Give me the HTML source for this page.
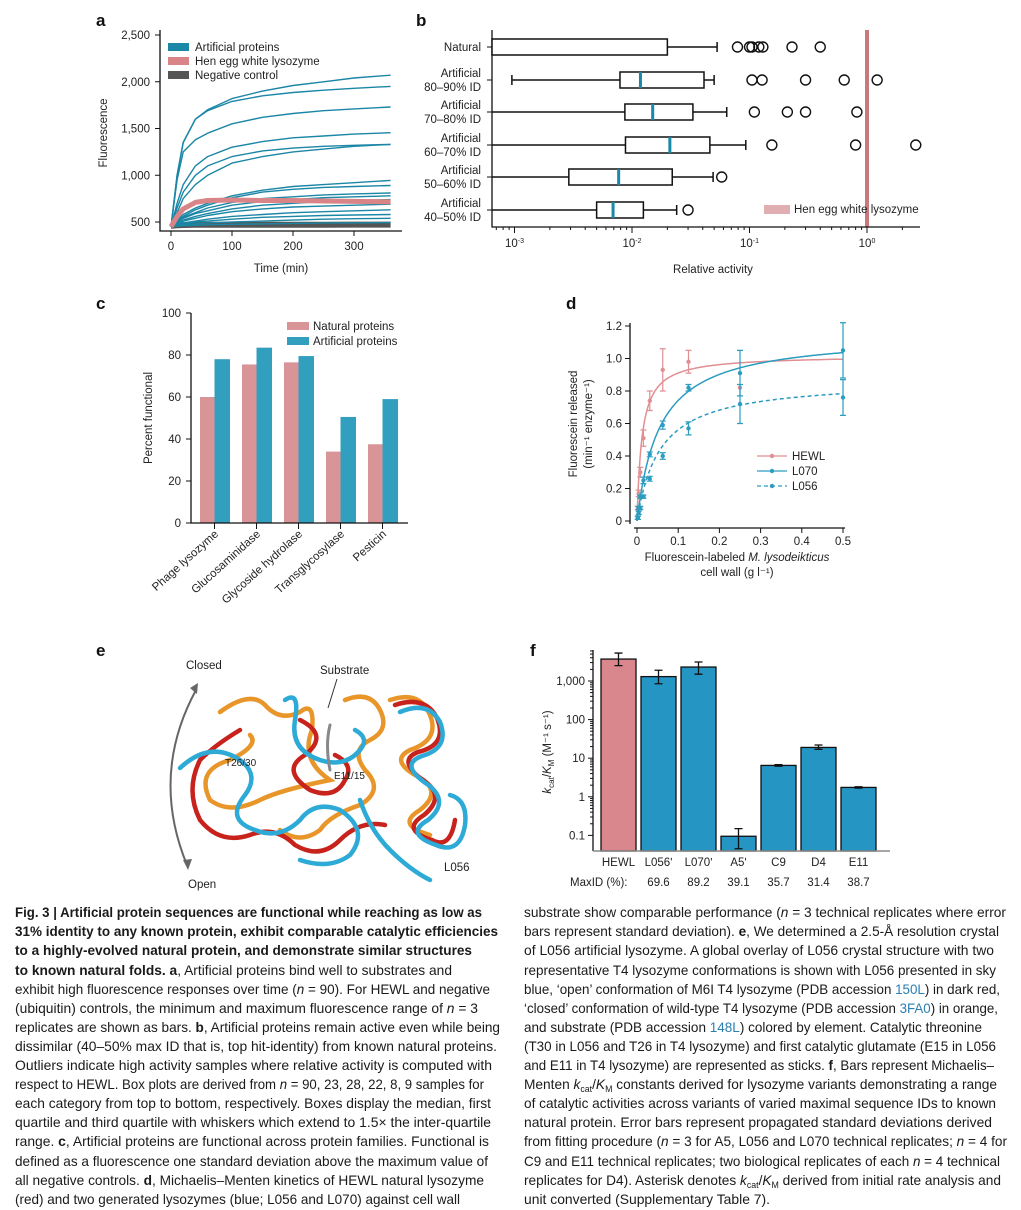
<!DOCTYPE html>
<html><head><meta charset="utf-8">
<style>
html,body{margin:0;padding:0;background:#fff;}
svg{display:block;font-family:"Liberation Sans",sans-serif;}
.t{font-size:11.5px;fill:#222;}
.cap{font-size:14px;fill:#1a1a1a;}
.b{font-weight:bold;}
.lnk{fill:#2a7fb0;}
</style></head>
<body>
<svg id="fig" xmlns="http://www.w3.org/2000/svg" width="1021" height="1210" viewBox="0 0 1021 1210">
<!-- panel letters -->
<g font-weight="bold" font-size="17" fill="#111">
<text x="96" y="26">a</text>
<text x="416" y="26">b</text>
<text x="96" y="309">c</text>
<text x="566" y="309">d</text>
<text x="96" y="656">e</text>
<text x="530" y="656">f</text>
</g>
<g id="pa"></g>
<g id="pb"></g>
<g id="pc"></g>
<g id="pd"></g>
<g id="pf"></g>

<!-- panel e: structure -->
<g>
<path d="M196 690 Q150 775 187 865" fill="none" stroke="#666" stroke-width="2"/>
<path d="M190 688 L198 683 L197 694 Z" fill="#666"/>
<path d="M183 860 L188 870 L192 859 Z" fill="#666"/>
<text x="186" y="669" class="t" font-size="12.5">Closed</text>
<text x="188" y="888" class="t" font-size="12.5">Open</text>
<text x="320" y="674" class="t" font-size="12.5">Substrate</text>
<line x1="337" y1="679" x2="328" y2="708" stroke="#333" stroke-width="1"/>
<text x="444" y="871" class="t" font-size="12.5">L056</text>
<g fill="none" stroke-linecap="round" stroke-width="4.5">
<path d="M220 712 Q250 690 265 705 Q280 722 300 712 Q315 700 312 730 Q300 760 330 780 Q280 790 260 800 Q230 815 210 800 Q195 770 230 760 Q260 745 250 735" stroke="#e8962a"/>
<path d="M345 700 Q370 690 380 710 Q390 730 370 740 Q350 750 365 770 Q385 790 360 805 Q330 815 320 830 Q300 845 280 830" stroke="#e8962a"/>
<path d="M390 700 Q420 690 430 715 Q440 740 410 750 Q390 760 415 775 Q445 790 420 810 Q395 825 430 835" stroke="#e8962a"/>
<path d="M240 730 Q215 745 200 760 Q185 790 200 820 Q220 845 250 835 Q275 825 295 845 Q320 860 340 840 Q360 820 385 825" stroke="#c7231c"/>
<path d="M395 705 Q425 695 437 718 Q448 745 418 752 Q398 760 420 778 Q448 795 424 815 Q400 830 432 840 Q450 850 455 820" stroke="#c7231c"/>
<path d="M300 720 Q330 735 305 755 Q280 770 310 790 Q335 800 345 780 Q355 765 335 755" stroke="#c7231c"/>
<path d="M180 768 Q210 740 240 760 Q260 775 245 795 Q225 820 255 830 Q280 840 300 820 Q315 800 340 810 Q370 830 350 855 Q330 870 300 860" stroke="#2eaad6"/>
<path d="M285 700 Q300 690 295 720 Q290 750 320 760 Q345 768 360 750 Q370 738 355 730" stroke="#2eaad6"/>
<path d="M400 712 Q428 700 440 722 Q450 748 422 756 Q400 764 424 782 Q452 800 428 820 Q404 834 436 845 Q460 855 465 825 Q468 800 450 795" stroke="#2eaad6"/>
<path d="M360 800 Q370 830 390 850 Q410 870 430 880" stroke="#2eaad6"/>
<path d="M330 725 Q325 745 330 770" stroke="#888" stroke-width="3"/>
</g>
<text x="225" y="766" font-size="10" fill="#222">T26/30</text>
<text x="334" y="779" font-size="10" fill="#222">E11/15</text>
</g>

<!-- caption left -->
<g class="cap">
<text x="15" y="917" textLength="467" lengthAdjust="spacingAndGlyphs" class="cap b">Fig. 3 | Artificial protein sequences are functional while reaching as low as</text>
<text x="15" y="936" textLength="483" lengthAdjust="spacingAndGlyphs" class="cap b">31% identity to any known protein, exhibit comparable catalytic efficiencies</text>
<text x="15" y="955" textLength="457" lengthAdjust="spacingAndGlyphs" class="cap b">to a highly-evolved natural protein, and demonstrate similar structures</text>
<text x="15" y="975" textLength="437" lengthAdjust="spacingAndGlyphs" class="cap"><tspan class="b">to known natural folds. a</tspan>, Artificial proteins bind well to substrates and</text>
<text x="15" y="994" textLength="475" lengthAdjust="spacingAndGlyphs" class="cap">exhibit high fluorescence responses over time (<tspan font-style="italic">n</tspan> = 90). For HEWL and negative</text>
<text x="15" y="1013" textLength="463" lengthAdjust="spacingAndGlyphs" class="cap">(ubiquitin) controls, the minimum and maximum fluorescence range of <tspan font-style="italic">n</tspan> = 3</text>
<text x="15" y="1032" textLength="485" lengthAdjust="spacingAndGlyphs" class="cap">replicates are shown as bars. <tspan class="b">b</tspan>, Artificial proteins remain active even while being</text>
<text x="15" y="1051" textLength="482" lengthAdjust="spacingAndGlyphs" class="cap">dissimilar (40–50% max ID that is, top hit-identity) from known natural proteins.</text>
<text x="15" y="1070" textLength="477" lengthAdjust="spacingAndGlyphs" class="cap">Outliers indicate high activity samples where relative activity is computed with</text>
<text x="15" y="1089" textLength="469" lengthAdjust="spacingAndGlyphs" class="cap">respect to HEWL. Box plots are derived from <tspan font-style="italic">n</tspan> = 90, 23, 28, 22, 8, 9 samples for</text>
<text x="15" y="1108" textLength="476" lengthAdjust="spacingAndGlyphs" class="cap">each category from top to bottom, respectively. Boxes display the median, first</text>
<text x="15" y="1127" textLength="476" lengthAdjust="spacingAndGlyphs" class="cap">quartile and third quartile with whiskers which extend to 1.5× the inter-quartile</text>
<text x="15" y="1146" textLength="474" lengthAdjust="spacingAndGlyphs" class="cap">range. <tspan class="b">c</tspan>, Artificial proteins are functional across protein families. Functional is</text>
<text x="15" y="1166" textLength="473" lengthAdjust="spacingAndGlyphs" class="cap">defined as a fluorescence one standard deviation above the maximum value of</text>
<text x="15" y="1185" textLength="469" lengthAdjust="spacingAndGlyphs" class="cap">all negative controls. <tspan class="b">d</tspan>, Michaelis–Menten kinetics of HEWL natural lysozyme</text>
<text x="15" y="1204" textLength="445" lengthAdjust="spacingAndGlyphs" class="cap">(red) and two generated lysozymes (blue; L056 and L070) against cell wall</text>
<!-- right -->
<text x="524" y="917" textLength="482" lengthAdjust="spacingAndGlyphs" class="cap">substrate show comparable performance (<tspan font-style="italic">n</tspan> = 3 technical replicates where error</text>
<text x="524" y="936" textLength="475" lengthAdjust="spacingAndGlyphs" class="cap">bars represent standard deviation). <tspan class="b">e</tspan>, We determined a 2.5-Å resolution crystal</text>
<text x="524" y="955" textLength="470" lengthAdjust="spacingAndGlyphs" class="cap">of L056 artificial lysozyme. A global overlay of L056 crystal structure with two</text>
<text x="524" y="975" textLength="472" lengthAdjust="spacingAndGlyphs" class="cap">representative T4 lysozyme conformations is shown with L056 presented in sky</text>
<text x="524" y="994" textLength="476" lengthAdjust="spacingAndGlyphs" class="cap">blue, ‘open’ conformation of M6I T4 lysozyme (PDB accession <tspan class="lnk">150L</tspan>) in dark red,</text>
<text x="524" y="1013" textLength="474" lengthAdjust="spacingAndGlyphs" class="cap">‘closed’ conformation of wild-type T4 lysozyme (PDB accession <tspan class="lnk">3FA0</tspan>) in orange,</text>
<text x="524" y="1032" textLength="458" lengthAdjust="spacingAndGlyphs" class="cap">and substrate (PDB accession <tspan class="lnk">148L</tspan>) colored by element. Catalytic threonine</text>
<text x="524" y="1051" textLength="472" lengthAdjust="spacingAndGlyphs" class="cap">(T30 in L056 and T26 in T4 lysozyme) and first catalytic glutamate (E15 in L056</text>
<text x="524" y="1070" textLength="470" lengthAdjust="spacingAndGlyphs" class="cap">and E11 in T4 lysozyme) are represented as sticks. <tspan class="b">f</tspan>, Bars represent Michaelis–</text>
<text x="524" y="1089" textLength="473" lengthAdjust="spacingAndGlyphs" class="cap">Menten <tspan font-style="italic">k</tspan><tspan font-size="9" dy="3">cat</tspan><tspan dy="-3">/</tspan><tspan font-style="italic">K</tspan><tspan font-size="9" dy="3">M</tspan><tspan dy="-3"> constants derived for lysozyme variants demonstrating a range</tspan></text>
<text x="524" y="1108" textLength="472" lengthAdjust="spacingAndGlyphs" class="cap">of catalytic activities across variants of varied maximal sequence IDs to known</text>
<text x="524" y="1127" textLength="468" lengthAdjust="spacingAndGlyphs" class="cap">natural protein. Error bars represent propagated standard deviations derived</text>
<text x="524" y="1146" textLength="483" lengthAdjust="spacingAndGlyphs" class="cap">from fitting procedure (<tspan font-style="italic">n</tspan> = 3 for A5, L056 and L070 technical replicates; <tspan font-style="italic">n</tspan> = 4 for</text>
<text x="524" y="1166" textLength="476" lengthAdjust="spacingAndGlyphs" class="cap">C9 and E11 technical replicates; two biological replicates of each <tspan font-style="italic">n</tspan> = 4 technical</text>
<text x="524" y="1185" textLength="477" lengthAdjust="spacingAndGlyphs" class="cap">replicates for D4). Asterisk denotes <tspan font-style="italic">k</tspan><tspan font-size="9" dy="3">cat</tspan><tspan dy="-3">/</tspan><tspan font-style="italic">K</tspan><tspan font-size="9" dy="3">M</tspan><tspan dy="-3"> derived from initial rate analysis and</tspan></text>
<text x="524" y="1204" textLength="246" lengthAdjust="spacingAndGlyphs" class="cap">unit converted (Supplementary Table 7).</text>
</g>
</svg>

<script>
// ---------- data ----------
const aTimes = [0,10,20,40,60,100,150,200,250,300,360];
const aArtificial = [
 [450,1000,1350,1600,1700,1820,1900,1960,2000,2040,2070],
 [450,1000,1350,1600,1690,1790,1850,1885,1910,1930,1950],
 [450,950,1250,1380,1450,1550,1620,1660,1690,1710,1730],
 [450,700,900,1100,1200,1300,1360,1400,1420,1440,1455],
 [450,650,820,1000,1100,1200,1260,1290,1310,1320,1330],
 [450,600,750,900,1000,1130,1200,1250,1280,1310,1330],
 [450,520,580,650,700,780,840,880,900,920,945],
 [450,510,560,630,680,760,820,850,870,880,890],
 [450,500,550,600,650,710,750,770,790,800,810],
 [450,500,540,590,620,680,720,740,760,770,780],
 [450,490,520,560,590,640,680,700,720,730,740],
 [450,480,510,540,570,610,640,660,670,680,690],
 [450,470,490,510,530,560,580,600,610,620,630],
 [450,470,480,500,510,530,550,560,570,575,580],
 [450,460,470,480,490,500,510,520,530,535,540],
 [450,455,460,465,470,475,480,485,490,490,495]
];
const aHewl = [450,560,640,710,730,735,730,730,725,720,715];
const aNeg = [460,465,468,470,470,470,470,470,470,472,472];
const aYTicks = [500,1000,1500,2000,2500];
const aYTickLabels = ["500","1,000","1,500","2,000","2,500"];
const aXTicks = [0,100,200,300];

const bCats = ["Natural","Artificial|80–90% ID","Artificial|70–80% ID","Artificial|60–70% ID","Artificial|50–60% ID","Artificial|40–50% ID"];
const bLow = [0.0001,0.00095,0.0001,0.0001,0.0001,0.0001];
const bQ1 = [0.0001,0.0079,0.0087,0.0088,0.0029,0.005];
const bMed = [0.0001,0.0118,0.015,0.021,0.0077,0.0069];
const bQ3 = [0.02,0.041,0.033,0.046,0.022,0.0125];
const bHigh = [0.053,0.05,0.064,0.093,0.049,0.024];
const bOutliers = [[0.079,0.10,0.105,0.12,0.13,0.23,0.40],[0.105,0.128,0.30,0.64,1.22],[0.11,0.21,0.30,0.82],[0.155,0.80,2.6],[0.058],[0.030]];
const bHewl = 1;
const bXTickExps = [-3,-2,-1,0];

const cCats = ["Phage lysozyme","Glucosaminidase","Glycoside hydrolase","Transglycosylase","Pesticin"];
const cNatural = [60,75.5,76.5,34,37.5];
const cArtificial = [78,83.5,79.5,50.5,59];
const cYTicks = [0,20,40,60,80,100];

const dX = [0.002,0.004,0.008,0.0156,0.031,0.0625,0.125,0.25,0.5];
const dHewl = [0.08,0.17,0.30,0.51,0.74,0.93,0.98,0.82,null];
const dHewlErr = [0.01,0.02,0.03,0.05,0.06,0.13,0.07,0.0,0];
const dL070 = [0.02,0.08,0.15,0.25,0.41,0.59,0.82,0.91,1.05];
const dL070Err = [0.01,0.01,0.01,0.02,0.015,0.025,0.02,0.14,0.17];
const dL056 = [0.02,0.05,0.08,0.15,0.26,0.40,0.57,0.72,0.76];
const dL056Err = [0.01,0.01,0.01,0.01,0.015,0.02,0.04,0.12,0.11];
const dFitVmax = [1.02,1.15,0.87];
const dFitKm = [0.012,0.055,0.055];
const dYTicks = [0,0.2,0.4,0.6,0.8,1.0,1.2];
const dYTickLabels = ["0","0.2","0.4","0.6","0.8","1.0","1.2"];
const dXTicks = [0,0.1,0.2,0.3,0.4,0.5];

const fCats = ["HEWL","L056*","L070*","A5*","C9","D4","E11"];
const fValues = [3700,1300,2300,0.095,6.5,19,1.75];
const fErrLow = [2500,850,1500,0.045,6.2,17,1.68];
const fErrHigh = [5300,1900,3100,0.15,6.8,22,1.82];
const fMaxId = ["","69.6","89.2","39.1","35.7","31.4","38.7"];
const fYTicks = [0.1,1,10,100,1000];
const fYTickLabels = ["0.1","1","10","100","1,000"];

// ---------- helpers ----------
const NS="http://www.w3.org/2000/svg";
function mk(tag, attrs, parent){
  const e=document.createElementNS(NS,tag);
  for(const k in attrs) e.setAttribute(k, attrs[k]);
  parent.appendChild(e);
  return e;
}
function txt(s, attrs, parent){
  const e=mk("text", attrs, parent);
  e.textContent=s;
  return e;
}

// ---------- panel a ----------
(function(){
  const g=document.getElementById("pa");
  const ax=t=>171+t*0.61, ay=v=>222-(v-500)*0.0935;
  const axis=mk("path",{d:"M160 30 V231 H402",fill:"none",stroke:"#111","stroke-width":1.3},g);
  
  
  aYTicks.forEach((v,i)=>{
    mk("line",{x1:155,x2:160,y1:ay(v),y2:ay(v),stroke:"#111"},g);
    const t=txt(aYTickLabels[i],{x:150,y:ay(v)+4,"text-anchor":"end",class:"t"},g);
    
    
  });
  aXTicks.forEach(v=>{
    mk("line",{x1:ax(v),x2:ax(v),y1:231,y2:236,stroke:"#111"},g);
    const t=txt(String(v),{x:ax(v),y:250,"text-anchor":"middle",class:"t"},g);
    
    
  });
  const yt=txt("Fluorescence",{x:0,y:0,transform:"translate(107,133) rotate(-90)","text-anchor":"middle",class:"t","font-size":12.5},g);
  
  
  const xt=txt("Time (min)",{x:281,y:272,"text-anchor":"middle",class:"t","font-size":12.5},g);
  
  
  const line=(vals,col,w,name)=>{
    const p=mk("path",{d:vals.map((v,i)=>(i?"L":"M")+ax(aTimes[i]).toFixed(1)+" "+ay(v).toFixed(1)).join(" "),fill:"none",stroke:col,"stroke-width":w,"stroke-linejoin":"round"},g);
    
    
  };
  line(aNeg,"#555",6,"negative-control-line");
  aArtificial.forEach(s=>line(s,"#1b86a6",1.4,"artificial-protein-curve"));
  line(aHewl,"#d98588",5,"hewl-line");
  const legs=[["Artificial proteins","#1b86a6"],["Hen egg white lysozyme","#d98588"],["Negative control","#555"]];
  legs.forEach((l,i)=>{
    const r=mk("rect",{x:168,y:43+i*14,width:21,height:8,fill:l[1]},g);
    
    
    const t=txt(l[0],{x:195,y:51+i*14,class:"t","font-size":10.5},g);
    
    
  });
})();

// ---------- panel b ----------
(function(){
  const g=document.getElementById("pb");
  const lx=v=>Math.max(492,867+Math.log10(v)*117.5);
  const rows=[47,80,112,145,177,210];
  const hl=mk("rect",{x:865,y:30,width:4,height:197,fill:"#c9797c"},g);
  
  
  mk("path",{d:"M492 30 V227 H920",fill:"none",stroke:"#111","stroke-width":1.3},g);
  bXTickExps.forEach(e=>{
    const x=867+e*117.5;
    mk("line",{x1:x,x2:x,y1:227,y2:233,stroke:"#111"},g);
    const t=mk("text",{x:x,y:247,"text-anchor":"middle",class:"t","font-size":10},g);
    
    
    t.textContent="10";
    const s=mk("tspan",{dy:-4,"font-size":7},t); s.textContent=String(e);
    for(let m=2;m<10;m++){
      const xm=x+Math.log10(m)*117.5;
      if(xm>493&&xm<920) mk("line",{x1:xm,x2:xm,y1:227,y2:230,stroke:"#111"},g);
    }
  });
  for(let m=7;m<10;m++){const xm=867-4*117.5+Math.log10(m)*117.5; if(xm>493) mk("line",{x1:xm,x2:xm,y1:227,y2:230,stroke:"#111"},g);}
  const xt=txt("Relative activity",{x:713,y:273,"text-anchor":"middle",class:"t","font-size":12.5},g);
  
  
  bCats.forEach((c,i)=>{
    const y=rows[i];
    mk("line",{x1:487,x2:492,y1:y,y2:y,stroke:"#111"},g);
    const parts=c.split("|");
    parts.forEach((p,j)=>{
      const t=txt(p,{x:481,y:y+4+(parts.length>1?(j?7:-7):0),"text-anchor":"end",class:"t","font-size":12},g);
      
      
    });
    const w=mk("line",{x1:lx(bLow[i]),x2:lx(bHigh[i]),y1:y,y2:y,stroke:"#111","stroke-width":1.5},g);
    
    
    [bLow[i],bHigh[i]].forEach(v=>{ if(lx(v)>492) mk("line",{x1:lx(v),x2:lx(v),y1:y-5,y2:y+5,stroke:"#111","stroke-width":1.5},g); });
    const b=mk("rect",{x:lx(bQ1[i]),y:y-8,width:lx(bQ3[i])-lx(bQ1[i]),height:16,fill:"#fff",stroke:"#111","stroke-width":1.5},g);
    
    
    if(lx(bMed[i])>493){
      const m=mk("rect",{x:lx(bMed[i])-1.5,y:y-8,width:3,height:16,fill:"#1a88a8"},g);
      
      
    }
    bOutliers[i].forEach(v=>{
      const o=mk("circle",{cx:lx(v),cy:y,r:5,fill:"none",stroke:"#111","stroke-width":1.4},g);
      
      
    });
  });
  const ls=mk("rect",{x:764,y:205,width:26,height:9,fill:"#e0aeb0"},g);
  
  
  const lt=txt("Hen egg white lysozyme",{x:794,y:213,class:"t","font-size":10.5},g);
  
  
})();

// ---------- panel c ----------
(function(){
  const g=document.getElementById("pc");
  const cy=v=>523-v*2.1;
  cYTicks.forEach(v=>{
    mk("line",{x1:186,x2:191,y1:cy(v),y2:cy(v),stroke:"#111"},g);
    const t=txt(String(v),{x:181,y:cy(v)+4,"text-anchor":"end",class:"t"},g);
    
    
  });
  cCats.forEach((c,i)=>{
    const x0=200+i*42;
    const r1=mk("rect",{x:x0,y:cy(cNatural[i]),width:14.5,height:cNatural[i]*2.1,fill:"#d99497"},g);
    
    
    const r2=mk("rect",{x:x0+14.5,y:cy(cArtificial[i]),width:15.5,height:cArtificial[i]*2.1,fill:"#339fbf"},g);
    
    
    mk("line",{x1:x0+14.5,x2:x0+14.5,y1:523,y2:529,stroke:"#111"},g);
    const t=txt(c,{x:0,y:0,transform:`translate(${x0+19},535) rotate(-42)`,"text-anchor":"end",class:"t","font-size":12},g);
    
    
  });
  mk("path",{d:"M191 313 V523 H408",fill:"none",stroke:"#111","stroke-width":1.3},g);
  const yt=txt("Percent functional",{x:0,y:0,transform:"translate(152,418) rotate(-90)","text-anchor":"middle",class:"t","font-size":12.5},g);
  
  
  [["Natural proteins","#d99497"],["Artificial proteins","#339fbf"]].forEach((l,i)=>{
    const r=mk("rect",{x:287,y:322+i*15,width:22,height:8,fill:l[1]},g);
    
    
    const t=txt(l[0],{x:313,y:330+i*15,class:"t","font-size":10.5},g);
    
    
  });
})();

// ---------- panel d ----------
(function(){
  const g=document.getElementById("pd");
  const dx=v=>637+v*412, dy=v=>521-v*162.5;
  mk("path",{d:"M630 323 V524",fill:"none",stroke:"#111","stroke-width":1.3},g);
  mk("path",{d:"M634 528 H845",fill:"none",stroke:"#111","stroke-width":1.3},g);
  dYTicks.forEach((v,i)=>{
    mk("line",{x1:625,x2:630,y1:dy(v),y2:dy(v),stroke:"#111"},g);
    const t=txt(dYTickLabels[i],{x:622,y:dy(v)+4,"text-anchor":"end",class:"t","font-size":11},g);
    
    
  });
  dXTicks.forEach(v=>{
    mk("line",{x1:dx(v),x2:dx(v),y1:528,y2:533,stroke:"#111"},g);
    const t=txt(String(v),{x:dx(v),y:545,"text-anchor":"middle",class:"t","font-size":11},g);
    
    
  });
  const y1=txt("Fluorescein released",{x:0,y:0,transform:"translate(577,424) rotate(-90)","text-anchor":"middle",class:"t","font-size":12},g);
  
  
  const y2=txt("(min⁻¹ enzyme⁻¹)",{x:0,y:0,transform:"translate(592,424) rotate(-90)","text-anchor":"middle",class:"t","font-size":12},g);
  
  
  const x1=mk("text",{x:737,y:561,"text-anchor":"middle",class:"t","font-size":12},g);
  
  
  x1.innerHTML='Fluorescein-labeled <tspan font-style="italic">M. lysodeikticus</tspan>';
  const x2=txt("cell wall (g l⁻¹)",{x:737,y:576,"text-anchor":"middle",class:"t","font-size":12},g);
  
  
  const series=[[dHewl,dHewlErr,"#e08f93",null,"hewl"],[dL070,dL070Err,"#2c9cc0",null,"l070"],[dL056,dL056Err,"#2c9cc0","4 3","l056"]];
  series.forEach((s,k)=>{
    let d="";
    for(let i=0;i<=200;i++){const x=0.5*i/200; const v=dFitVmax[k]*x/(dFitKm[k]+x); d+=(i?"L":"M")+dx(x).toFixed(1)+" "+dy(v).toFixed(1);}
    const p=mk("path",{d:d,fill:"none",stroke:s[2],"stroke-width":1.5},g);
    if(s[3]) p.setAttribute("stroke-dasharray",s[3]);
    
    
    dX.forEach((x,i)=>{
      const v=s[0][i]; if(v===null) return;
      const e=s[1][i];
      if(e>0){
        mk("path",{d:`M${dx(x)} ${dy(v-e)} V${dy(v+e)} M${dx(x)-3} ${dy(v-e)} h6 M${dx(x)-3} ${dy(v+e)} h6`,stroke:s[2],"stroke-width":1.2,fill:"none"},g);
      }
      const c=mk("circle",{cx:dx(x),cy:dy(v),r:2.2,fill:s[2]},g);
      
      
    });
  });
  [["HEWL","#e08f93",null],["L070","#2c9cc0",null],["L056","#2c9cc0","4 3"]].forEach((l,i)=>{
    const y=456+i*15;
    const ln=mk("line",{x1:757,x2:787,y1:y,y2:y,stroke:l[1],"stroke-width":1.3},g);
    if(l[2]) ln.setAttribute("stroke-dasharray",l[2]);
    
    
    mk("circle",{cx:772,cy:y,r:2.2,fill:l[1]},g);
    const t=txt(l[0],{x:792,y:y+4,class:"t","font-size":12},g);
    
    
  });
})();

// ---------- panel f ----------
(function(){
  const g=document.getElementById("pf");
  const fy=v=>681-(Math.log10(v)-3)*38.6;
  fYTicks.forEach((v,i)=>{
    mk("line",{x1:588,x2:593,y1:fy(v),y2:fy(v),stroke:"#111"},g);
    const t=txt(fYTickLabels[i],{x:585,y:fy(v)+4,"text-anchor":"end",class:"t","font-size":11},g);
    
    
    for(let m=2;m<10;m++){ const y=fy(v*m); if(y>650) mk("line",{x1:590,x2:593,y1:y,y2:y,stroke:"#111"},g); }
  });
  mk("line",{x1:593,x2:593,y1:650,y2:851,stroke:"#111","stroke-width":1.3},g);
  fCats.forEach((c,i)=>{
    const x0=601+i*40;
    const r=mk("rect",{x:x0,y:fy(fValues[i]),width:35,height:851-fy(fValues[i]),fill:i?"#2596c4":"#d9878c",stroke:"#111","stroke-width":1.3},g);
    
    
    const xc=x0+17.5, yl=fy(fErrLow[i]), yh=fy(fErrHigh[i]);
    const e=mk("path",{d:`M${xc} ${yl} V${yh} M${xc-4} ${yl} h8 M${xc-4} ${yh} h8`,stroke:"#111","stroke-width":1.3,fill:"none"},g);
    
    
    const t=txt(c.replace('*','ʹ'),{x:xc,y:866,"text-anchor":"middle",class:"t","font-size":11},g);
    
    
    if(fMaxId[i]){
      const m=txt(fMaxId[i],{x:xc,y:886,"text-anchor":"middle",class:"t","font-size":11.5},g);
      
      
    }
  });
  mk("line",{x1:593,x2:890,y1:851,y2:851,stroke:"#888","stroke-width":1.5},g);
  const ml=txt("MaxID (%):",{x:570,y:886,class:"t","font-size":11.5},g);
  
  
  const yt=mk("text",{x:0,y:0,transform:"translate(551,752) rotate(-90)","text-anchor":"middle",class:"t","font-size":12},g);
  
  
  yt.innerHTML='<tspan font-style="italic">k</tspan><tspan font-size="8" dy="3">cat</tspan><tspan dy="-3">/</tspan><tspan font-style="italic">K</tspan><tspan font-size="8" dy="3">M</tspan><tspan dy="-3"> (M⁻¹ s⁻¹)</tspan>';
})();
</script>
</body></html>
